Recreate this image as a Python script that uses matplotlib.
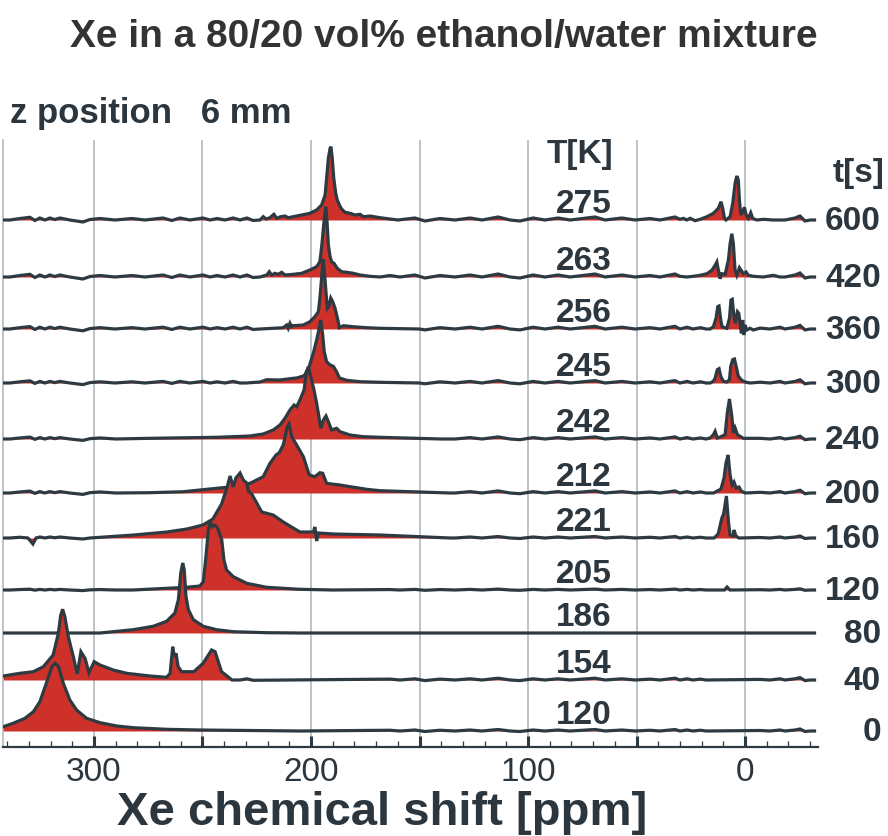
import matplotlib
matplotlib.use("Agg")
import matplotlib.pyplot as plt
from matplotlib.transforms import blended_transform_factory
from matplotlib.ticker import FixedLocator, MultipleLocator

plt.rcParams['font.family'] = ['Liberation Sans', 'DejaVu Sans']

# ---- data -------------------------------------------------------------
time_s = [0, 40, 80, 120, 160, 200, 240, 300, 360, 420, 600]
temp_K = [120, 154, 186, 205, 221, 212, 242, 245, 256, 263, 275]

# spectra: lists of (chemical shift [ppm], intensity) vertices, one list per peak group
spec_0s = [[(341.8, 4.3), (337.2, 7.7), (331.8, 12.7), (327.9, 19.3), (324.9, 29.3), (321.7, 49.3),
            (319.4, 64.3), (317.9, 67.7), (316.3, 64.3), (314.1, 47.7), (311.1, 31), (308.0, 21),
            (303.4, 12.7), (297.2, 8.3), (289.5, 5), (281.9, 3.3), (266.5, 1.7), (251.2, 1), (205.1, 0)]]

spec_40s = [[(341.8, 4), (334.1, 6.7), (327.9, 8.3), (323.3, 13.3), (318.8, 25), (316.4, 46.7),
             (315.3, 65), (314.4, 70.7), (313.4, 63.3), (311.8, 43.3), (309.5, 23.3), (307.7, 6),
             (306.0, 28.3), (304.1, 21.7), (302.3, 7.3), (299.9, 18.3), (297.2, 15), (291.1, 10),
             (284.9, 6.7), (274.2, 4), (266.5, 2.7), (264.9, 6.7), (263.7, 33.3), (263.0, 23.3),
             (262.2, 26.7), (261.2, 13.3), (259.6, 8.3), (254.0, 8.3), (249.7, 16.7), (245.8, 30),
             (244.2, 28.3), (241.2, 8.3), (236.4, 0)]]

spec_80s = [[(297.2, 0), (281.9, 3.3), (272.7, 6.7), (266.5, 11.7), (262.7, 20), (261.1, 33.3),
             (260.0, 60), (259.1, 70), (258.4, 63.3), (257.6, 36.7), (256.5, 23.3), (254.2, 13.3),
             (249.6, 6.7), (243.5, 3.3), (235.8, 1.3), (220.4, 0.3), (205.0, 0)]]

spec_120s = [[(282.0, 0), (266.5, 1.7), (257.3, 2.7), (251.2, 4), (249.6, 8.3), (248.4, 33.3),
              (247.3, 60), (246.5, 68.3), (245.5, 63.3), (244.6, 65), (243.5, 63.3), (242.7, 60),
              (241.1, 50), (240.1, 30), (238.9, 20), (235.8, 13.3), (229.6, 6.7), (220.4, 2.7),
              (205.1, 0.7), (190.0, 0)],
             [(9.5, 0), (8.3, 3), (7.0, 0)]]

spec_160s = [[(330.4, 0), (328.1, -6), (326.7, 0)],
             [(301.8, 0), (281.6, 3), (266.4, 6), (257.1, 9), (249.8, 13), (245.2, 19), (241.2, 34),
              (238.6, 51), (237.3, 62), (235.8, 51), (234.6, 60), (232.7, 65), (231.2, 58),
              (229.6, 55), (228.9, 47), (227.3, 44), (225.0, 35), (222.7, 26), (217.4, 23),
              (212.8, 16), (208.2, 10), (205.1, 6), (198.9, 6), (198.2, 11), (197.4, -3),
              (196.6, 5), (189.7, 4), (168.2, 3), (135.9, 0)],
             [(14.3, 0), (12.4, 4), (10.7, 20), (9.9, 24), (8.6, 42), (7.6, 15), (6.9, 3), (5.5, 2),
              (5.1, 8), (4.2, 2), (2.8, 0)]]

spec_200s = [[(290.0, 0), (274.2, 0.3), (258.8, 1.3), (243.5, 4.7), (235.8, 6.3), (228.1, 9.7),
              (222.0, 16.3), (218.9, 29.7), (216.1, 38), (214.6, 40.3), (212.8, 48), (210.9, 66.3),
              (210.1, 69), (208.9, 56.3), (206.6, 48), (203.5, 36.3), (200.8, 18), (198.2, 16.3),
              (195.9, 20.3), (194.6, 19.7), (192.8, 9.7), (190.5, 9), (186.6, 8), (182.0, 6.3),
              (174.3, 3.7), (168.2, 2.3), (135.9, 0)],
             [(14.5, 0), (11.1, 4), (9.7, 15), (8.8, 30), (7.8, 38), (6.9, 18), (6.0, 8), (5.1, 11),
              (4.1, 5), (2.8, 6), (1.8, 2), (0.0, 0)]]

spec_240s = [[(290.0, 0), (274.2, 0.7), (243.5, 1.7), (228.1, 3), (222.0, 5), (217.4, 9), (214.3, 14),
              (212.0, 20.7), (209.7, 29), (207.8, 34), (206.6, 32.3), (205.1, 39), (203.2, 49),
              (202.0, 67.3), (201.2, 72.3), (200.5, 65.7), (198.6, 49), (197.4, 35.7), (196.6, 25.7),
              (195.5, 10.7), (194.3, 19), (193.1, 23), (192.0, 17.3), (190.5, 9), (188.2, 10.7),
              (186.6, 7.3), (182.0, 4), (175.9, 2.3), (168.2, 1.7), (140.0, 0)],
             [(16.1, 1), (14.6, 4.3), (13.8, 7.7), (12.8, 1), (11.5, 2), (9.2, 4.3), (8.2, 26),
              (7.2, 40), (6.1, 22.7), (5.4, 6), (4.6, 11), (3.5, 4.3), (2.3, 2.7), (0.8, 0.7)]]

spec_300s = [[(230.0, 0), (223.5, 1), (220.4, 3.3), (214.3, 3), (208.2, 4.7), (206.6, 5), (203.5, 7),
              (202.8, 8.3), (200.8, 16.7), (198.9, 30), (197.4, 43), (196.2, 55), (195.5, 63),
              (194.6, 48), (193.9, 31.3), (192.8, 21.3), (191.2, 18), (189.7, 16.7), (188.2, 11.3),
              (186.9, 5), (183.5, 2.7), (177.4, 1.3), (168.2, 0.7), (150.0, 0)],
             [(16.1, 0), (14.6, 1.7), (13.8, 5), (12.8, 13.3), (12.0, 14.3), (11.2, 6.7), (10.0, 1.7),
              (8.4, 1), (7.2, 3.3), (6.6, 16.7), (5.7, 23.3), (4.9, 24), (4.1, 16.7), (3.1, 6.7),
              (1.5, 2.7), (0.0, 1), (-2.3, 0)]]

spec_360s = [[(223.5, 0), (212.8, 1.3), (211.2, 4), (210.5, 0.7), (209.7, 5.7), (208.9, 2.3),
              (208.2, 3.3), (203.5, 4), (200.5, 7.3), (198.2, 12.3), (196.6, 17.3), (195.9, 30.7),
              (195.0, 54), (194.4, 70), (193.7, 54), (193.1, 37.3), (192.5, 20.7), (191.8, 22.7),
              (190.9, 31), (190.0, 27.3), (188.9, 20.7), (187.8, 10.7), (186.9, 1.3), (185.1, 3.3),
              (180.5, 2.3), (174.3, 1.3), (168.2, 0.7), (150.0, 0)],
             [(16.1, 0), (14.6, 2.3), (13.4, 10.7), (12.6, 22.3), (12.0, 23), (11.2, 9), (10.6, 2.3),
              (8.4, 0.7), (7.2, 10.7), (6.5, 29), (5.9, 29.7), (5.1, 12.3), (4.5, 5.7), (3.5, 17.3),
              (2.9, 15.7), (2.3, 5.7), (1.7, -4.3), (1.1, 9), (0.6, -6), (0.0, 4), (-0.8, -1),
              (-2.3, 0.7), (-3.8, -1)]]

spec_420s = [[(223.5, 0), (220.4, 2), (219.2, 5.3), (218.1, 2), (216.6, 3.7), (215.1, 2.7),
              (213.5, 4.7), (212.0, 2), (208.2, 2.7), (204.3, 3.7), (200.5, 7), (197.4, 10.3),
              (195.9, 15.3), (195.0, 32), (194.0, 55.3), (193.2, 70.3), (192.6, 55.3), (192.0, 32),
              (191.2, 20.3), (190.5, 15.3), (189.4, 13.7), (187.9, 8.7), (185.9, 5.3), (183.5, 4.7),
              (180.5, 3.7), (177.4, 2), (172.8, 0.7), (168.2, 0)],
             [(30.0, 0.7), (26.9, 0), (23.8, 0.7), (20.7, 1.7), (17.6, 3.3), (15.3, 6.7), (13.8, 11.7),
              (13.0, 15), (12.3, 6.7), (11.5, -1.7), (10.7, 3.3), (9.2, 2.7), (7.7, 16.7), (6.9, 33.3),
              (6.1, 43.3), (5.4, 33.3), (4.6, 6.7), (3.8, 1.7), (2.6, 9.3), (1.8, 6.7), (0.8, 3.3),
              (-0.5, 5), (-1.5, 1.7), (-3.8, 0.7), (-8.4, 0), (-13.0, 1.7), (-16.1, 0)]]

spec_600s = [[(223.5, 0), (222.0, 3.3), (220.7, 1), (218.9, 2.3), (217.1, 5.7), (215.8, 1.7),
              (214.0, 3.3), (212.0, 4), (210.5, 2.3), (208.2, 3.3), (204.3, 5), (200.5, 6.7),
              (197.4, 10), (195.1, 15), (193.5, 25), (192.8, 41.7), (192.0, 61.7), (191.2, 71.7),
              (190.8, 73.3), (190.2, 61.7), (189.5, 41.7), (188.6, 26.7), (187.9, 20), (186.9, 15),
              (185.9, 11), (184.3, 7.7), (182.0, 6.7), (179.7, 5), (177.4, 5.7), (175.9, 3.3),
              (172.8, 4), (168.2, 2.3), (160.0, 0)],
             [(30.0, 0.7), (28.4, 1.7), (26.9, 0), (25.3, 1.7), (23.0, -0.7), (20.7, 0.7), (17.6, 3.3),
              (14.6, 6.7), (12.3, 11.7), (11.1, 18.3), (10.3, 11.7), (9.5, 1.7), (8.8, 0), (6.9, 3.3),
              (5.7, 16.7), (4.6, 36.7), (3.8, 44), (3.1, 40), (2.6, 20), (2.0, 5), (1.1, 8.3),
              (0.3, 12.7), (-0.5, 5), (-1.5, 1.7), (-2.6, 7.3), (-3.5, 1.7), (-5.4, 0), (-8.4, 0.7),
              (-13.0, 0), (-16.1, 0)]]

spectra = [spec_0s, spec_40s, spec_80s, spec_120s, spec_160s, spec_200s,
           spec_240s, spec_300s, spec_360s, spec_420s, spec_600s]

# baseline noise vertices (ppm, intensity) and their relative level per spectrum
baseline_ripple = [(338.7, 0), (334.1, 1.5), (329.5, 2.7), (327.2, -0.5), (324.9, 2), (322.6, 0),
                   (320.3, 2), (318.0, 0.5), (315.7, 2), (311.1, 0), (305.1, -2), (301.8, 0.5),
                   (297.2, 1.5), (290.3, 0), (282.5, 1.5), (276.5, 0), (268.2, 2), (264.1, -0.5),
                   (260.4, 2), (255.8, 0), (249.8, 2), (246.5, 0), (243.3, 1.5), (239.6, 0),
                   (235.9, 2), (232.7, 0), (229.5, 2), (226.7, -0.5), (163.6, 1.5), (159.0, 0),
                   (152.1, 2), (147.5, -1), (140.6, 1.5), (133.6, 0), (126.7, 2), (121.2, 0),
                   (113.8, 3), (108.3, 0), (103.7, -1), (97.7, 2), (92.2, 0), (86.2, 2), (80.6, 0),
                   (69.1, 3), (64.5, 0), (56.7, 2), (50.7, 0), (43.8, 1.5), (39.2, 0), (32.3, 3),
                   (30.0, 0), (26.7, 2), (24.0, 0), (20.5, 1.5), (18.0, 0), (-6.9, 1), (-11.5, 0),
                   (-16.1, 2), (-18.4, 0), (-23.0, 2), (-25.3, 4), (-27.6, -1), (-30.0, 0)]
noise_level = [0.5, 0.6, 0.0, 0.3, 0.5, 0.7, 0.7, 0.8, 0.9, 1.0, 1.0]

# ---- layout -----------------------------------------------------------
trace_offset = [16, 67, 114, 157, 209, 254, 308, 364, 418, 470, 527]
X_LEFT, X_RIGHT = 341.9, -33.6
TRACE_START, TRACE_END = 341.9, -32.0

RED = '#CE3129'
DARK = '#2E3A42'
GRID = '#AAB3BB'
TEXT = '#2B363E'

W, H = 888, 836
fig = plt.figure(figsize=(W / 100, H / 100), dpi=100)
ax = fig.add_axes([3 / W, (H - 747) / H, (818 - 3) / W, (747 - 140) / H])
ax.set_xlim(X_LEFT, X_RIGHT)
ax.set_ylim(0, 607)


def assemble(groups, level):
    spans = [(min(p for p, _ in g), max(p for p, _ in g)) for g in groups]
    pts = []
    for p, v in baseline_ripple:
        if not any(lo - 1.0 <= p <= hi + 1.0 for lo, hi in spans):
            pts.append((p, v * level))
    for g in groups:
        pts.extend(g)
    if max(p for p, _ in pts) < TRACE_START - 0.5:
        pts.append((TRACE_START, 0.0))
    if min(p for p, _ in pts) > TRACE_END + 0.5:
        pts.append((TRACE_END, 0.0))
    pts.sort(key=lambda t: -t[0])
    return [p for p, _ in pts], [v for _, v in pts]


n = len(spectra)
for i, (groups, level, off) in enumerate(zip(spectra, noise_level, trace_offset)):
    xs, hs = assemble(groups, level)
    ys = [off + v for v in hs]
    z = 10 + 2 * (n - i)
    ax.fill_between(xs, off, ys, color=RED, lw=0, zorder=z)
    ax.plot(xs, ys, color=DARK, lw=2.3, solid_joinstyle='miter', zorder=z + 1)

# temperature and time labels
T_X = 74.2
for t, T, off in zip(time_s, temp_K, trace_offset):
    ax.text(T_X, off + 7, str(T), ha='center', va='baseline', fontsize=24,
            fontweight='bold', color=TEXT, zorder=50)

trans = blended_transform_factory(fig.transFigure, ax.transData)
for t, off in zip(time_s, trace_offset):
    ax.text(881 / W, off - 10, str(t), transform=trans, ha='right', va='baseline',
            fontsize=24, fontweight='bold', color=TEXT, clip_on=False)

# axis styling
ax.xaxis.set_major_locator(FixedLocator([300, 250, 200, 150, 100, 50, 0]))
ax.set_xticklabels(['300', '', '200', '', '100', '', '0'])
ax.xaxis.set_minor_locator(MultipleLocator(10))
ax.tick_params(axis='x', which='major', direction='in', length=8, width=2.2,
               color=DARK, labelsize=24, labelcolor=TEXT, pad=7)
ax.tick_params(axis='x', which='minor', direction='in', length=4, width=0.9, color=DARK)
ax.set_yticks([])
ax.grid(axis='x', which='major', color=GRID, lw=1.1)
ax.set_axisbelow(True)
for s in ('top', 'right'):
    ax.spines[s].set_visible(False)
ax.spines['left'].set_color(GRID)
ax.spines['left'].set_linewidth(1.1)
ax.spines['bottom'].set_color(DARK)
ax.spines['bottom'].set_linewidth(1.6)

# titles and headers
fig.text(444 / W, 1 - 47 / H, 'Xe in a 80/20 vol% ethanol/water mixture', ha='center',
         va='baseline', fontsize=28, fontweight='bold', color='#333333')
fig.text(10 / W, 1 - 123 / H, 'z position   6 mm', ha='left', va='baseline',
         fontsize=25, fontweight='bold', color=TEXT)
fig.text(580 / W, 1 - 163 / H, 'T[K]', ha='center', va='baseline',
         fontsize=24, fontweight='bold', color=TEXT)
fig.text(884 / W, 1 - 182 / H, 't[s]', ha='right', va='baseline',
         fontsize=24, fontweight='bold', color=TEXT)
fig.text(382 / W, 1 - 825 / H, 'Xe chemical shift [ppm]', ha='center', va='baseline',
         fontsize=34, fontweight='bold', color=TEXT)

fig.savefig('out.png', dpi=100)
